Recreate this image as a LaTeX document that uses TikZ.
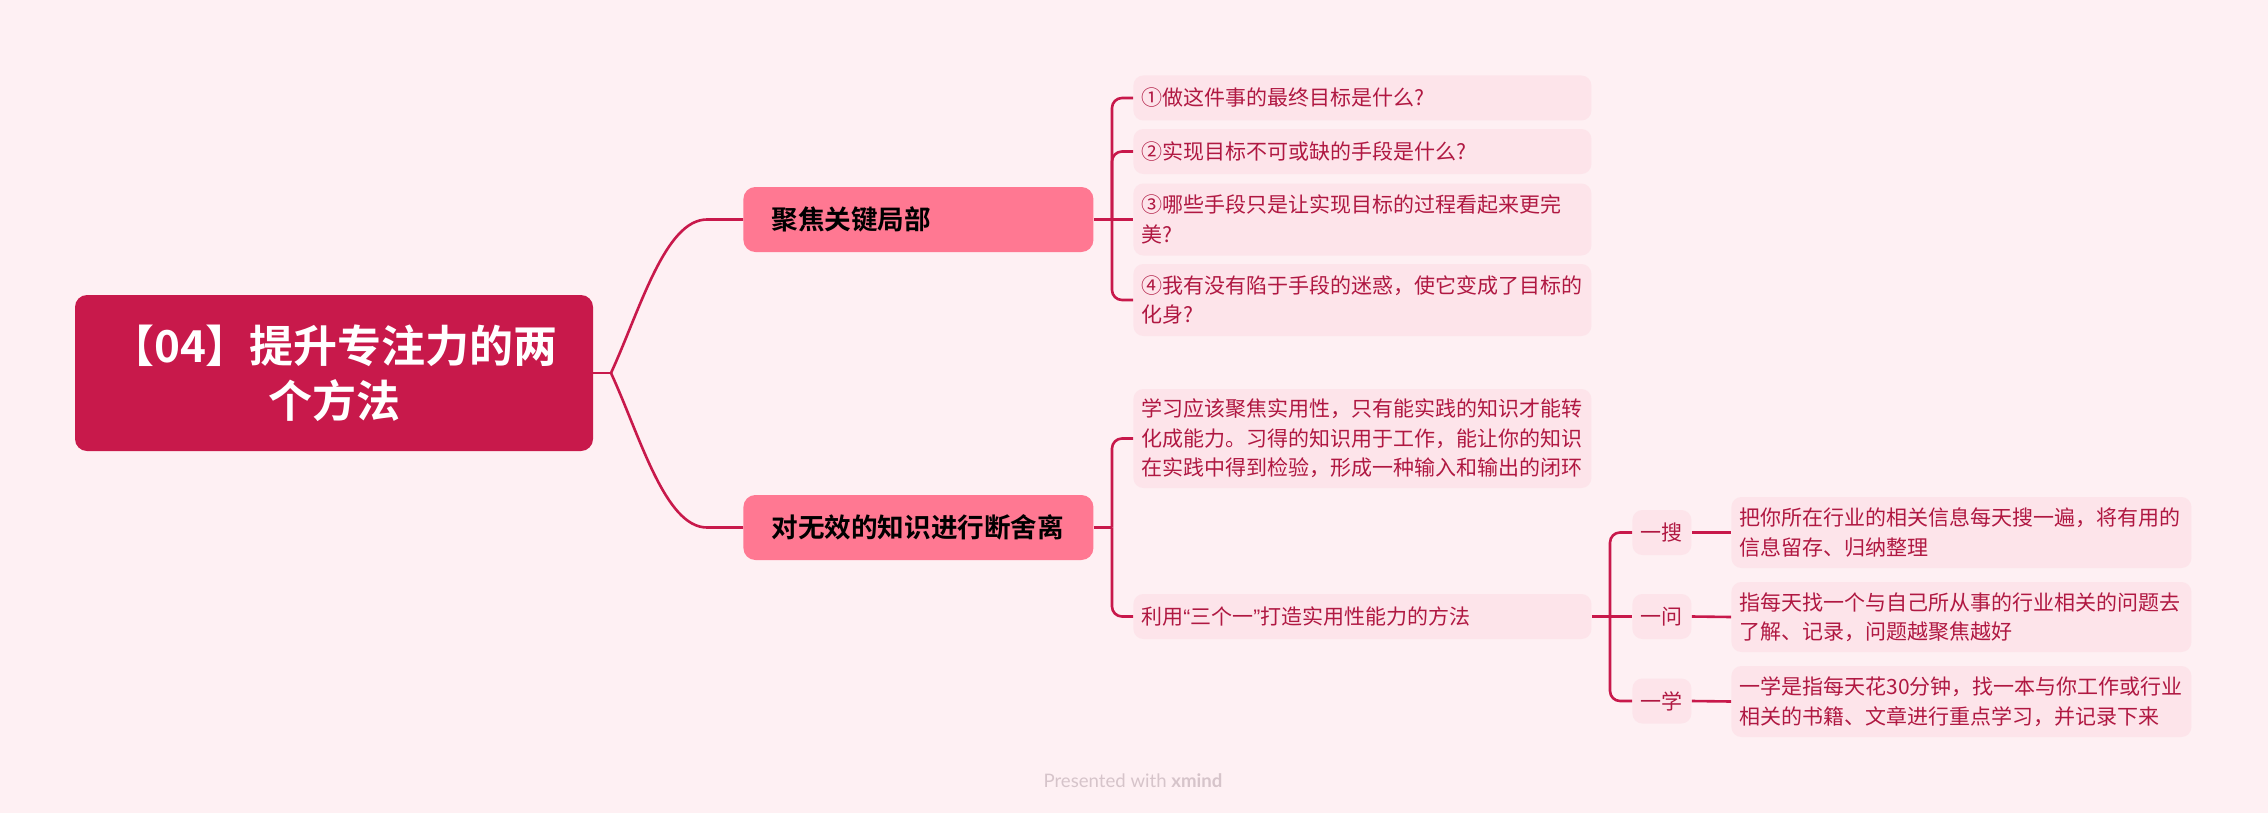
\documentclass[tikz,border=0pt]{standalone}
\usepackage{fontspec}
\setmainfont{Noto Sans CJK SC}[BoldFont={Noto Sans CJK SC Bold}]
\newfontfamily\footfont{Lato}
\newfontfamily\latinq{Liberation Sans}
\definecolor{bgc}{HTML}{FEF0F3}
\definecolor{rootc}{HTML}{C8194B}
\definecolor{branchc}{HTML}{FF7892}
\definecolor{leafc}{HTML}{FDE4EA}
\definecolor{linec}{HTML}{C8194B}
\definecolor{leaftext}{HTML}{B01842}
\definecolor{footc}{HTML}{D6C4CA}
\newcommand{\oq}{{\latinq\char"201C}}
\newcommand{\cq}{{\latinq\char"201D}}
\tikzset{
  rootbox/.style={fill=rootc, rounded corners=6pt, text=white, align=center, inner sep=0pt,
    minimum width=259pt, minimum height=78pt, font=\fontsize{22}{27.5}\selectfont\bfseries},
  branchbox/.style={fill=branchc, rounded corners=6pt, text=black, align=left, anchor=west,
    minimum width=175pt, minimum height=32.5pt, text width=147pt, inner xsep=14pt, inner ysep=0pt,
    font=\fontsize{13.3}{16}\selectfont\bfseries},
  leafbox/.style={fill=leafc, rounded corners=5pt, text=leaftext, align=left, anchor=west,
    text width=221pt, inner xsep=4pt, inner ysep=0pt, font=\fontsize{10.5}{14.75}\selectfont},
  detailbox/.style={leafbox, text width=222pt},
  smallbox/.style={fill=leafc, rounded corners=5pt, text=leaftext, align=center, anchor=west,
    minimum width=29.5pt, minimum height=22.5pt, inner sep=0pt, font=\fontsize{10.5}{14.75}\selectfont},
  conn/.style={draw=linec, line width=1.3pt},
  footer/.style={text=footc, font=\footfont\fontsize{9.3}{11}\selectfont, inner sep=0pt}
}
\begin{document}
\begin{tikzpicture}[x=0.5pt,y=-0.5pt]
\fill[bgc] (0,0) rectangle (2268,813);
\useasboundingbox (0,0) rectangle (2268,813);

% nodes
\node[rootbox] (root) at (334,373) {【04】提升专注力的两\\个方法};
\node[branchbox] (b1) at (743,219.5) {聚焦关键局部};
\node[branchbox] (b2) at (743,527.5) {对无效的知识进行断舍离};

\node[leafbox, minimum height=22.5pt] (c1) at (1133,98) {①做这件事的最终目标是什么?};
\node[leafbox, minimum height=22.5pt] (c2) at (1133,151.5) {②实现目标不可或缺的手段是什么?};
\node[leafbox, minimum height=36pt] (c3) at (1133,219.5) {③哪些手段只是让实现目标的过程看起来更完\\美?};
\node[leafbox, minimum height=36pt] (c4) at (1133,300) {④我有没有陷于手段的迷惑，使它变成了目标的\\化身?};
\node[leafbox, minimum height=49.5pt] (c5) at (1133,438.5) {学习应该聚焦实用性，只有能实践的知识才能转\\化成能力。习得的知识用于工作，能让你的知识\\在实践中得到检验，形成一种输入和输出的闭环};
\node[leafbox, minimum height=22.5pt] (c6) at (1133,616.5) {利用\oq 三个一\cq 打造实用性能力的方法};

\node[smallbox] (s1) at (1632,532.5) {一搜};
\node[smallbox] (s2) at (1632,616.5) {一问};
\node[smallbox] (s3) at (1632,701) {一学};

\node[detailbox, minimum height=35.5pt] (d1) at (1731,532.5) {把你所在行业的相关信息每天搜一遍，将有用的\\信息留存、归纳整理};
\node[detailbox, minimum height=35pt] (d2) at (1731,617) {指每天找一个与自己所从事的行业相关的问题去\\了解、记录，问题越聚焦越好};
\node[detailbox, minimum height=35.5pt] (d3) at (1731,701.5) {一学是指每天花30分钟，找一本与你工作或行业\\相关的书籍、文章进行重点学习，并记录下来};

\node[footer] (ft) at (1133,781) {Presented with \textbf{xmind}};

% connectors root -> branches
\coordinate (f0) at (611,373);
\draw[conn] (root.east) -- (f0);
\draw[conn] (f0) .. controls +(29,-63) and +(-42,0) .. ([xshift=-18pt]b1.west) -- (b1.west);
\draw[conn] (f0) .. controls +(29,63) and +(-42,0) .. ([xshift=-18pt]b2.west) -- (b2.west);

% branch 1 bracket
\coordinate (j1) at (1112,219.5);
\draw[conn] (b1.east) -- (j1);
\draw[conn, rounded corners=5pt] (j1) |- (c1.west);
\draw[conn, rounded corners=5pt] (j1) |- (c2.west);
\draw[conn] (j1) -- (c3.west);
\draw[conn, rounded corners=5pt] (j1) |- (c4.west);

% branch 2 bracket
\coordinate (j2) at (1112,527.5);
\draw[conn] (b2.east) -- (j2);
\draw[conn, rounded corners=5pt] (j2) |- (c5.west);
\draw[conn, rounded corners=5pt] (j2) |- (c6.west);

% three-one bracket
\coordinate (j3) at (1610,616.5);
\draw[conn] (c6.east) -- (j3);
\draw[conn, rounded corners=5pt] (j3) |- (s1.west);
\draw[conn] (j3) -- (s2.west);
\draw[conn, rounded corners=5pt] (j3) |- (s3.west);

\draw[conn] (s1.east) -- (d1.west);
\draw[conn] (s2.east) -- (d2.west);
\draw[conn] (s3.east) -- (d3.west);
\end{tikzpicture}
\end{document}
